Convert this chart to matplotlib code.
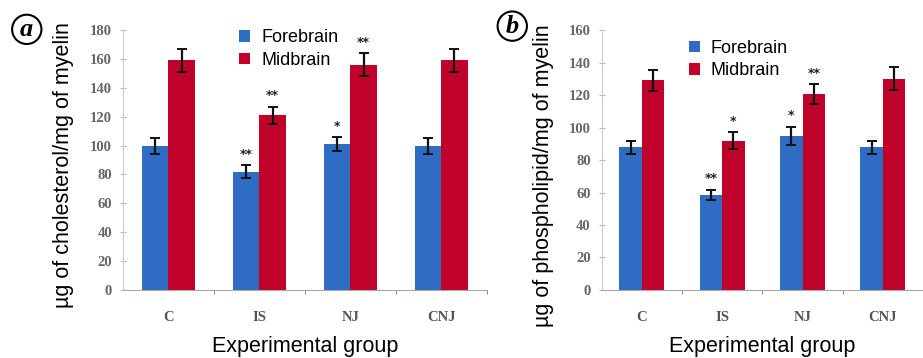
import matplotlib
matplotlib.use('Agg')
import matplotlib.pyplot as plt
import numpy as np

groups = ['C', 'IS', 'NJ', 'CNJ']

# panel a: cholesterol
chol_fore = [100, 82, 101, 100]
chol_fore_err = [5.5, 4.5, 5, 5.5]
chol_mid = [159, 121, 156, 159]
chol_mid_err = [8, 6, 8, 8]
chol_fore_star = ['', '**', '*', '']
chol_mid_star = ['', '**', '**', '']

# panel b: phospholipid
phos_fore = [88, 58.5, 95, 88]
phos_fore_err = [4, 3, 5.5, 4]
phos_mid = [129, 92, 120.5, 130]
phos_mid_err = [6.5, 5, 6, 7]
phos_fore_star = ['', '**', '*', '']
phos_mid_star = ['', '*', '**', '']

BLUE = '#2f6cc3'
RED = '#c0022b'
TICKC = '#777777'


def panel(ax, fore, fe, mid, me, fs, ms, ymax, ystep, width, ylabel, xr, star_off):
    x = np.arange(len(groups))
    ax.bar(x - width / 2, fore, width, color=BLUE, label='Forebrain', zorder=2)
    ax.bar(x + width / 2, mid, width, color=RED, label='Midbrain', zorder=2)
    ax.errorbar(x - width / 2, fore, yerr=fe, fmt='none', ecolor='#111111',
                elinewidth=1.6, capsize=3.5, capthick=1.4, zorder=3)
    ax.errorbar(x + width / 2, mid, yerr=me, fmt='none', ecolor='#111111',
                elinewidth=1.6, capsize=3.5, capthick=1.4, zorder=3)
    for i in range(len(groups)):
        if fs[i]:
            ax.text(x[i] - width / 2, fore[i] + fe[i] + star_off, fs[i], ha='center',
                    va='bottom', fontsize=9, color='#222222', fontweight='bold')
        if ms[i]:
            ax.text(x[i] + width / 2, mid[i] + me[i] + star_off, ms[i], ha='center',
                    va='bottom', fontsize=9, color='#222222', fontweight='bold')
    ax.set_xlim(-0.5, xr)
    ax.set_ylim(0, ymax)
    ax.set_yticks(np.arange(0, ymax + 1, ystep))
    ax.set_xticks(x)
    ax.set_xticks(np.arange(0.5, 4, 1), minor=True)
    ax.set_xticklabels(groups, family='Liberation Serif', fontsize=10.5,
                       color='#555555', fontweight='bold')
    for t in ax.get_yticklabels():
        t.set_family('Liberation Serif')
        t.set_fontsize(10.5)
        t.set_color('#666666')
        t.set_fontweight('bold')
    ax.tick_params(axis='x', which='major', length=0, pad=15)
    ax.tick_params(axis='x', which='minor', length=3, color=TICKC, direction='out')
    ax.tick_params(axis='y', length=4, color='#bbbbbb', direction='inout', pad=6)
    for s in ['top', 'right']:
        ax.spines[s].set_visible(False)
    ax.spines['left'].set_color('#cccccc')
    ax.spines['bottom'].set_color('#aaaaaa')
    ax.set_ylabel(ylabel, family='Liberation Sans', fontsize=15.5, labelpad=6)
    ax.set_xlabel('Experimental group', family='Liberation Sans', fontsize=15.5, labelpad=9)


fig = plt.figure(figsize=(9.23, 3.58), dpi=100)
ax1 = fig.add_axes([0.1333, 0.19, 0.394, 0.726])
ax2 = fig.add_axes([0.652, 0.19, 0.348, 0.726])

panel(ax1, chol_fore, chol_fore_err, chol_mid, chol_mid_err, chol_fore_star,
      chol_mid_star, 180, 20, 0.29, 'µg of cholesterol/mg of myelin', 3.5, 3)
panel(ax2, phos_fore, phos_fore_err, phos_mid, phos_mid_err, phos_fore_star,
      phos_mid_star, 160, 20, 0.28, 'µg of phospholipid/mg of myelin', 3.32, 3)
ax1.yaxis.set_label_coords(-0.135, 0.48)
ax2.yaxis.set_label_coords(-0.15, 0.44)

for ax, loc in [(ax1, (0.3, 1.03)), (ax2, (0.25, 0.99))]:
    leg = ax.legend(loc='upper left', bbox_to_anchor=loc, frameon=False,
                    prop={'family': 'Liberation Sans', 'size': 13},
                    handlelength=0.6, handleheight=0.6, handletextpad=0.6,
                    labelspacing=0.3, borderaxespad=0)

fig.text(0.029, 0.918, 'a', family='Liberation Serif', style='italic',
         fontweight='bold', fontsize=19, ha='center', va='center',
         bbox=dict(boxstyle='circle,pad=0.12', fc='white', ec='black', lw=1.5))
fig.text(0.555, 0.927, 'b', family='Liberation Serif', style='italic',
         fontweight='bold', fontsize=19, ha='center', va='center',
         bbox=dict(boxstyle='circle,pad=0.12', fc='white', ec='black', lw=1.5))

fig.savefig('out.png', dpi=100)
